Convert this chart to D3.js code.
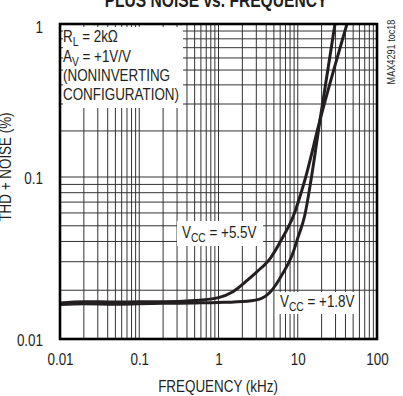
<!DOCTYPE html>
<html><head><meta charset="utf-8">
<script src="https://cdn.jsdelivr.net/npm/d3@7"></script>
<style>
html,body{margin:0;padding:0;background:#fff;overflow:hidden}
svg{display:block}
text{font-family:"Liberation Sans",Arial,Helvetica,sans-serif;fill:#231f20}
</style></head><body>
<svg id="c" width="403" height="396"></svg>
<script>
// ---- data ----
const xTicks = [0.01, 0.1, 1, 10, 100];
const xTickLabels = ["0.01", "0.1", "1", "10", "100"];
const yTicks = [0.01, 0.1, 1];
const yTickLabels = ["0.01", "0.1", "1"];

const freq55 = [0.01, 0.02, 0.05, 0.1, 0.2, 0.5, 1.0, 1.5, 2.3, 3.0, 4.5, 6.5, 8.7, 12.3, 19.1, 41.8];
const thd55  = [0.0167, 0.0170, 0.0169, 0.0170, 0.0170, 0.0173, 0.0180, 0.0195, 0.0230, 0.0258, 0.0315, 0.0426, 0.0566, 0.0958, 0.236, 1.0];

const freq18 = [0.01, 0.02, 0.05, 0.1, 0.2, 0.5, 1.0, 2.3, 3.5, 4.5, 6.5, 8.7, 10.1, 12.3, 14.7, 19.1, 29.5];
const thd18  = [0.0163, 0.0165, 0.0164, 0.0165, 0.0166, 0.0167, 0.0168, 0.0171, 0.0178, 0.0195, 0.0255, 0.0340, 0.0426, 0.0583, 0.0958, 0.236, 1.0];

const seriesLabels = ["+5.5V", "+1.8V"];
const conditionLines = [["R", "L", " = 2k\u03A9"], ["A", "V", " = +1V/V"], ["(NONINVERTING", "", ""], ["CONFIGURATION)", "", ""]];
const titleText = "PLUS NOISE vs. FREQUENCY";
const xTitle = "FREQUENCY (kHz)";
const yTitle = "THD + NOISE (%)";
const tocText = "MAX4291 toc18";

// ---- layout ----
const L = 60, R = 377, T = 24, B = 339;
const SX = 0.79, FS = 17;
const ink = "#231f20";

const svg = d3.select("#c");
const x = d3.scaleLog().domain([0.01, 100]).range([L, R]);
const y = d3.scaleLog().domain([0.01, 0.1, 1]).range([B, 177, T]);

// grid values
const gx = [];
[0.01, 0.1, 1, 10].forEach(d => { for (let k = 1; k <= 9; k++) gx.push(d * k); });
gx.push(100);
const gy = [];
[0.01, 0.1].forEach(d => { for (let k = 1; k <= 9; k++) gy.push(d * k); });
gy.push(1);

const grid = svg.append("g").attr("stroke", "#333").attr("stroke-width", 1);
grid.selectAll("line.v").data(gx).join("line").attr("class", "v")
  .attr("x1", d => x(d)).attr("x2", d => x(d)).attr("y1", T).attr("y2", B);
grid.selectAll("line.h").data(gy).join("line").attr("class", "h")
  .attr("x1", L).attr("x2", R).attr("y1", d => y(d)).attr("y2", d => y(d));

// condition box
svg.append("rect").attr("x", 63).attr("y", 27).attr("width", 120).attr("height", 81).attr("fill", "#fff");

function richText(parent, tx, ty, parts, opts = {}) {
  const t = parent.append("text")
    .attr("transform", `translate(${tx},${ty}) scale(${opts.sx || SX},1)`)
    .attr("font-size", opts.fs || FS)
    .attr("text-anchor", opts.anchor || "start");
  t.append("tspan").text(parts[0]);
  if (parts[1]) {
    t.append("tspan").attr("font-size", 13).attr("dy", 4).text(parts[1]);
    t.append("tspan").attr("dy", -4).text(parts[2]);
  }
  return t;
}
const condY = [42, 62, 81, 100];
conditionLines.forEach((p, i) => richText(svg, 63, condY[i], p));

// curves
svg.append("clipPath").attr("id", "clip").append("rect")
  .attr("x", L).attr("y", T).attr("width", R - L).attr("height", B - T);
const line = d3.line().x(d => x(d[0])).y(d => y(d[1])).curve(d3.curveMonotoneX);
const series = [d3.zip(freq55, thd55), d3.zip(freq18, thd18)];
svg.append("g").attr("clip-path", "url(#clip)")
  .selectAll("path").data(series).join("path")
  .attr("d", line).attr("fill", "none").attr("stroke", ink)
  .attr("stroke-width", 3).attr("stroke-linejoin", "round");

// series labels
const labelBoxes = [{bx: 177, by: 221, bw: 86, bh: 25, tx: 182, ty: 238},
                    {bx: 276, by: 292, bw: 82, bh: 22, tx: 280, ty: 307}];
labelBoxes.forEach((b, i) => {
  svg.append("rect").attr("x", b.bx).attr("y", b.by).attr("width", b.bw).attr("height", b.bh).attr("fill", "#fff");
  richText(svg, b.tx, b.ty, ["V", "CC", " = " + seriesLabels[i]]);
});

// border
svg.append("rect").attr("x", L).attr("y", T).attr("width", R - L).attr("height", B - T)
  .attr("fill", "none").attr("stroke", "#000").attr("stroke-width", 2.6);

// axes
const yAxis = d3.axisLeft(y).tickValues(yTicks).tickSize(0)
  .tickFormat((d, i) => yTickLabels[i]);
const gY = svg.append("g").attr("transform", `translate(${L},0)`).call(yAxis);
gY.select(".domain").remove();
gY.selectAll("text").attr("font-size", FS).attr("font-family", null).attr("fill", ink)
  .attr("x", -17 / SX).attr("transform", `scale(${SX},1)`)
  .attr("dy", (d, i) => i === yTicks.length - 1 ? "0.5em" : "0.36em");

const xAxis = d3.axisBottom(x).tickValues(xTicks).tickSize(0)
  .tickFormat((d, i) => xTickLabels[i]);
const gX = svg.append("g").attr("transform", `translate(0,${B})`).call(xAxis);
gX.select(".domain").remove();
gX.selectAll("text").attr("font-size", FS).attr("font-family", null).attr("fill", ink)
  .attr("y", 14).attr("transform", `scale(${SX},1)`);

// titles
svg.append("text").attr("transform", `translate(218,392) scale(${SX},1)`)
  .attr("text-anchor", "middle").attr("font-size", FS).text(xTitle);
svg.append("text").attr("transform", `translate(11,167) rotate(-90) scale(${SX},1)`)
  .attr("text-anchor", "middle").attr("font-size", FS).text(yTitle);
svg.append("text").attr("transform", `translate(216,7) scale(0.78,1)`)
  .attr("text-anchor", "middle").attr("font-size", 20).attr("font-weight", "bold").text(titleText);
svg.append("text").attr("transform", `translate(395,52) rotate(-90) scale(0.83,1)`)
  .attr("text-anchor", "middle").attr("font-size", 11).text(tocText);
</script>
</body></html>
